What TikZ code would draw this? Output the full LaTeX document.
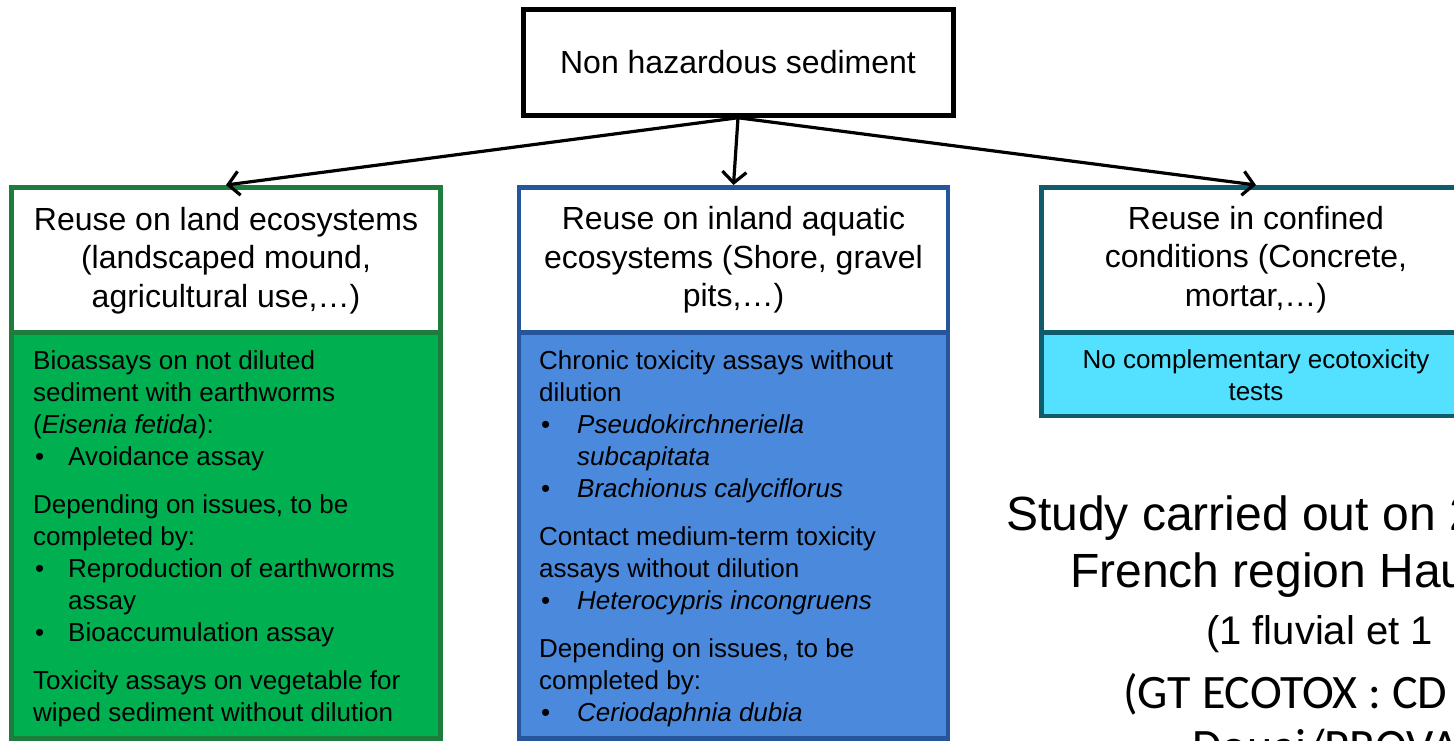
\documentclass[tikz,border=0pt]{standalone}
\usepackage{fontspec}
\setmainfont{Liberation Sans}
\newfontfamily\calibrifont{Carlito}
\usetikzlibrary{arrows.meta}
\definecolor{gborder}{RGB}{30,125,60}
\definecolor{gfill}{RGB}{0,176,80}
\definecolor{bborder}{RGB}{37,86,155}
\definecolor{bfill}{RGB}{74,137,220}
\definecolor{tborder}{RGB}{14,92,108}
\definecolor{tfill}{RGB}{84,224,255}
\newcommand{\bul}[1][35pt]{\makebox[#1][l]{\hspace{2pt}\textbullet}}
\newcommand{\ind}[1][35pt]{\hspace*{#1}}
\begin{document}
\begin{tikzpicture}[x=1pt,y=-1pt,
  box/.style={draw, line width=4.5pt, rectangle, inner sep=0pt, minimum width=429pt},
  head/.style={box, fill=white, minimum height=145.25pt},
  txt/.style={inner sep=0pt, anchor=base west, font=\fontsize{26}{32}\selectfont},
  htxt/.style={inner sep=0pt, anchor=base, font=\fontsize{32}{38.5}\selectfont},
  arr/.style={line width=3.2pt, -{Straight Barb[length=11pt,width=24pt]}}
]
\useasboundingbox (0,0) rectangle (1454,740);
\clip (0,0) rectangle (1454,740);
\fill[white] (0,0) rectangle (1454,740);

% top box
\node[draw, line width=5pt, inner sep=0pt, minimum width=430pt, minimum height=105.5pt,
      font=\fontsize{32}{38.5}\selectfont] (top) at (738,62.5) {Non hazardous sediment};

% green column
\node[head, draw=gborder] (gh) at (226,259.875) {};
\node[box, draw=gborder, fill=gfill, minimum height=406pt] (gb) at (226,535.5) {};
\node[htxt] (ght) at (226,230) {\parbox[t]{420pt}{\centering Reuse on land ecosystems\\(landscaped mound,\\agricultural use,…)}};
\node[txt] (gbt) at (33,369) {\parbox[t]{400pt}{\raggedright
Bioassays on not diluted\\
sediment with earthworms\\
(\textit{Eisenia fetida}):\\
\bul Avoidance assay\\[16pt]
Depending on issues, to be\\
completed by:\\
\bul Reproduction of earthworms\\
\ind assay\\
\bul Bioaccumulation assay\\[16pt]
Toxicity assays on vegetable for\\
wiped sediment without dilution}};

% blue column
\node[head, draw=bborder] (bh) at (733.5,259.875) {};
\node[box, draw=bborder, fill=bfill, minimum height=406pt] (bb) at (733.5,535.5) {};
\node[htxt] (bht) at (733.5,229.5) {\parbox[t]{420pt}{\centering Reuse on inland aquatic\\ecosystems (Shore, gravel\\pits,…)}};
\node[txt] (bbt) at (539,369) {\parbox[t]{400pt}{\raggedright
Chronic toxicity assays without\\
dilution\\
\bul[38pt]\textit{Pseudokirchneriella}\\
\ind[38pt]\textit{subcapitata}\\
\bul[38pt]\textit{Brachionus calyciflorus}\\[16pt]
Contact medium-term toxicity\\
assays without dilution\\
\bul[38pt]\textit{Heterocypris incongruens}\\[16pt]
Depending on issues, to be\\
completed by:\\
\bul[38pt]\textit{Ceriodaphnia dubia}}};

% teal column
\node[head, draw=tborder] (th) at (1256,259.875) {};
\node[box, draw=tborder, fill=tfill, minimum height=83.5pt] (tb) at (1256,374.25) {};
\node[htxt] (tht) at (1256,229) {\parbox[t]{420pt}{\centering Reuse in confined\\conditions (Concrete,\\mortar,…)}};
\node[txt, anchor=base] (tbt) at (1256,368) {\parbox[t]{420pt}{\centering No complementary ecotoxicity\\tests}};

% arrows
\draw[arr] (top.south) -- (gh.north);
\draw[arr] (top.south) -- (bh.north);
\draw[arr] (top.south) -- (th.north);

% right-side text
\node[inner sep=0pt, anchor=base west, font=\fontsize{48}{57}\selectfont] (s1) at (1006,530) {Study carried out on 2};
\node[inner sep=0pt, anchor=base west, font=\fontsize{48}{57}\selectfont] (s2) at (1070,587) {French region Hau};
\node[inner sep=0pt, anchor=base west, font=\fontsize{40}{48}\selectfont] (s3) at (1206,644) {(1 fluvial et 1};
\node[inner sep=0pt, anchor=base west, font=\calibrifont\fontsize{48}{57}\selectfont] (s4) at (1123,708) {(GT ECOTOX : CD};
\node[inner sep=0pt, anchor=base west, font=\calibrifont\fontsize{48}{57}\selectfont] (s5) at (1192,762) {Douai/PROVA};
\end{tikzpicture}
\end{document}
